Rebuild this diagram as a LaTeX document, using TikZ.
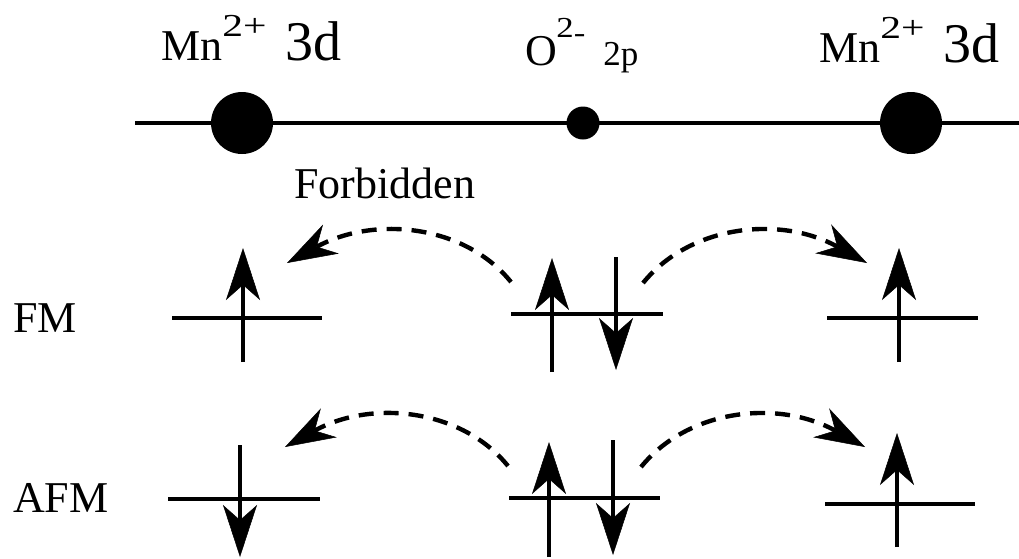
\documentclass[tikz,border=0pt]{standalone}
\usepackage{fontspec}
\setmainfont{Liberation Serif}
\usepackage{graphicx}
\usetikzlibrary{arrows.meta}
\tikzset{
  level/.style={line width=4.2pt},
  spin/.style={line width=3.8pt, -{Stealth[length=52pt,width=34pt,inset=15pt,line width=0.5pt]}},
  hop/.style={line width=4.4pt, dash pattern=on 15pt off 10pt, -{Stealth[length=50pt,width=33pt,inset=16pt,line width=0.5pt]}},
  atom/.style={circle, fill=black, inner sep=0pt},
  lbl/.style={anchor=base west, inner sep=0pt, font=\fontsize{44}{44}\selectfont}
}
\newcommand{\mnlabel}{Mn\raisebox{24pt}{\scalebox{1.3}[1]{\fontsize{32}{32}\selectfont 2+}}\hspace{19pt}{\fontsize{56}{56}\selectfont 3d}}
\begin{document}
\begin{tikzpicture}[x=1pt,y=-1pt]
\useasboundingbox (0,0) rectangle (1019,558);
% chain
\coordinate (lineL) at (135,123);
\coordinate (lineR) at (1019,123);
\draw[line width=4pt] (lineL) -- (lineR);
\node[atom, minimum size=62pt] (mn1) at (242,123) {};
\node[atom, minimum size=33pt] (ox) at (583,123) {};
\node[atom, minimum size=62pt] (mn2) at (911,123) {};
% labels
\node[lbl] (lmn1) at (161,60) {\mnlabel};
\node[lbl] (lox) at (525.5,65) {\fontsize{44}{44}\selectfont O\hspace{-1pt}\raisebox{28pt}{\scalebox{1.2}[1]{\fontsize{29}{29}\selectfont 2\raisebox{-5pt}{-}}}\hspace{18pt}{\fontsize{35}{35}\selectfont 2p}};
\node[lbl] (lmn2) at (819,62) {\mnlabel};
\node[lbl] (forb) at (294,198) {Forbidden};
\node[lbl] (fm) at (13,332) {FM};
\node[lbl] (afm) at (13,512) {AFM};
% FM levels
\draw[level] (172,318) -- (322,318);
\draw[level] (511,314) -- (663,314);
\draw[level] (827,318) -- (978,318);
% FM spins
\draw[spin] (243,362) -- (243,248);
\draw[spin] (552,372) -- (552,258);
\draw[spin] (616,257) -- (616,370);
\draw[spin] (899,362) -- (899,248);
% FM hops
\coordinate (fmLs) at (511,282);
\coordinate (fmLe) at (287,263);
\coordinate (fmRs) at (643,283);
\coordinate (fmRe) at (867,263);
\draw[hop] (fmLs) .. controls (465,225) and (375,215) .. (fmLe);
\draw[hop] (fmRs) .. controls (690,225) and (780,215) .. (fmRe);
% AFM levels
\draw[level] (168,499) -- (320,499);
\draw[level] (509,498) -- (660,498);
\draw[level] (825,504) -- (975,504);
% AFM spins
\draw[spin] (240,445) -- (240,557);
\draw[spin] (549,557) -- (549,442);
\draw[spin] (613,440) -- (613,555);
\draw[spin] (897,547) -- (897,433);
% AFM hops
\coordinate (afLs) at (508,466);
\coordinate (afLe) at (285,447);
\coordinate (afRs) at (641,467);
\coordinate (afRe) at (865,447);
\draw[hop] (afLs) .. controls (462,409) and (372,399) .. (afLe);
\draw[hop] (afRs) .. controls (688,409) and (778,399) .. (afRe);
\end{tikzpicture}
\end{document}
